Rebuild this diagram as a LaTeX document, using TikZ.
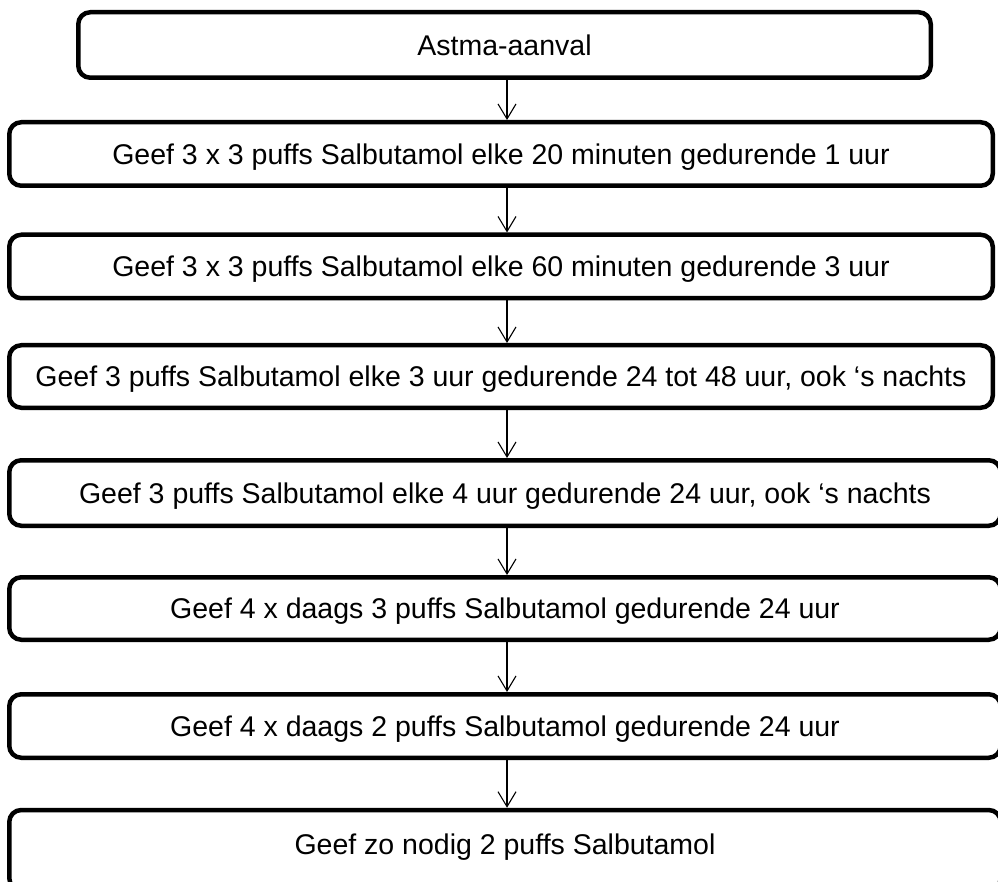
\documentclass[tikz,border=0pt]{standalone}
\usepackage{fontspec}
\setmainfont{Liberation Sans}
\usetikzlibrary{arrows.meta}
\pgfmathsetmacro{\boxlw}{4.5}
\pgfmathsetmacro{\arrowx}{507}

\begin{document}
\begin{tikzpicture}[x=1pt, y=-1pt,
    stap/.style={draw, line width=\boxlw pt, rounded corners=12pt, inner sep=0pt,
        minimum height=63.5pt, text height=20.4pt, text depth=0pt,
        font=\fontsize{28.5}{34}\selectfont},
    pijl/.style={-{Straight Barb[length=15pt, width=18pt]}, line width=1.1pt}]
    \useasboundingbox (0,0) rectangle (998,882);
    % define boxes
    \node[stap, minimum width=852.5pt, minimum height=65.5pt] (aanval) at (504.5,45) {Astma-aanval};
    \node[stap, minimum width=983.5pt] (stap_1) at (501,154)
        {Geef 3 x 3 puffs Salbutamol elke 20 minuten gedurende 1 uur};
    \node[stap, minimum width=983.5pt] (stap_2) at (501,266.5)
        {Geef 3 x 3 puffs Salbutamol elke 60 minuten gedurende 3 uur};
    \node[stap, minimum width=983.5pt, minimum height=62.5pt] (stap_3) at (501,376.5)
        {Geef 3 puffs Salbutamol elke 3 uur gedurende 24 tot 48 uur, ook ‘s nachts};
    \node[stap, minimum width=991.5pt, minimum height=65.5pt] (stap_4) at (505,493)
        {Geef 3 puffs Salbutamol elke 4 uur gedurende 24 uur, ook ‘s nachts};
    \node[stap, minimum width=991.5pt, minimum height=62.5pt] (stap_5) at (505,608.5)
        {Geef 4 x daags 3 puffs Salbutamol gedurende 24 uur};
    \node[stap, minimum width=991.5pt] (stap_6) at (505,726)
        {Geef 4 x daags 2 puffs Salbutamol gedurende 24 uur};
    % last box runs off the bottom of the page
    \node[stap, minimum width=991.5pt, minimum height=80pt, text depth=12.4pt] (stap_7) at (505,850)
        {Geef zo nodig 2 puffs Salbutamol};
    % x of all arrows
    \coordinate (as) at (\arrowx,0);
    % draw arrows
    \draw[pijl] (aanval.south -| as) -- (stap_1.north -| as);
    \draw[pijl] (stap_1.south -| as) -- (stap_2.north -| as);
    \draw[pijl] (stap_2.south -| as) -- (stap_3.north -| as);
    \draw[pijl] (stap_3.south -| as) -- (stap_4.north -| as);
    \draw[pijl] (stap_4.south -| as) -- (stap_5.north -| as);
    \draw[pijl] (stap_5.south -| as) -- (stap_6.north -| as);
    \draw[pijl] (stap_6.south -| as) -- (stap_7.north -| as);
\end{tikzpicture}
\end{document}
